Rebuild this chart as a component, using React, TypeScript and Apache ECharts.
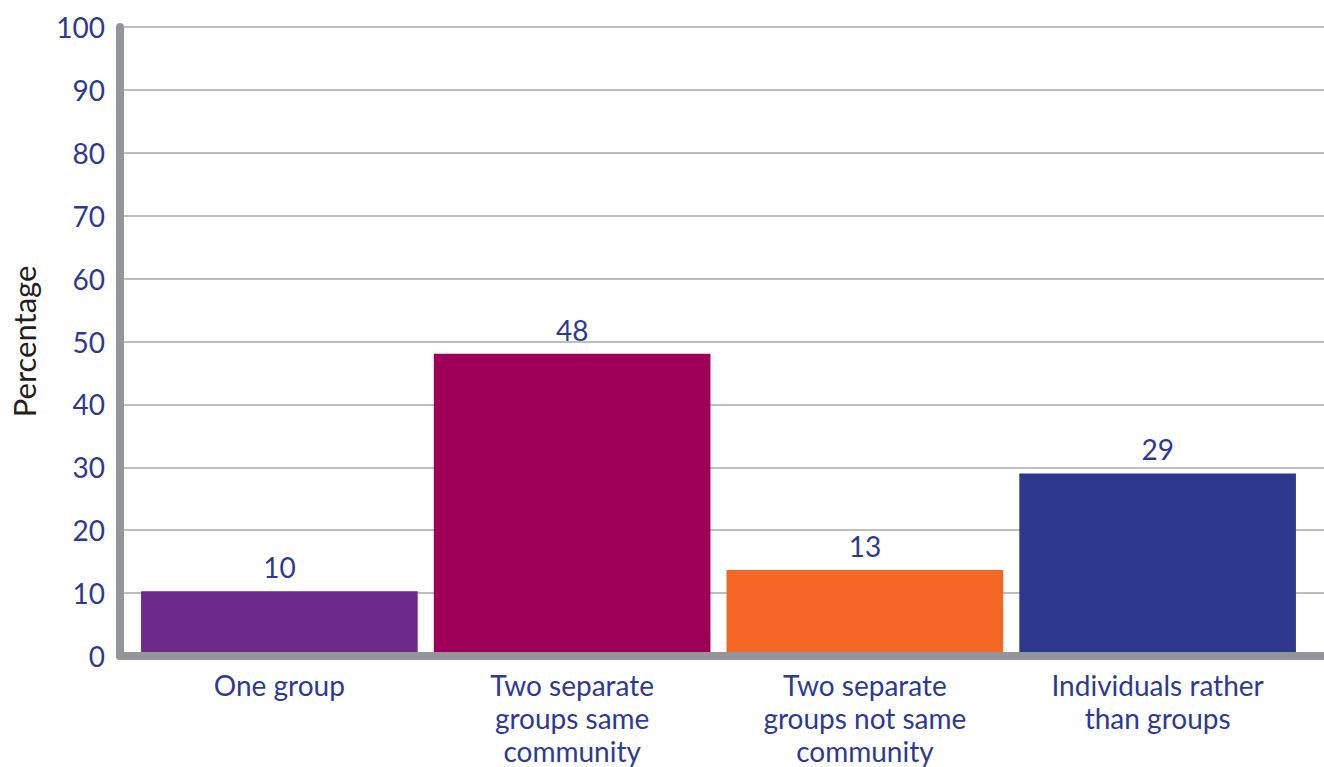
import React, { useEffect, useRef } from "react";
import * as echarts from "echarts";

const categories = [
  "One group",
  "Two separate\ngroups same\ncommunity",
  "Two separate\ngroups not same\ncommunity",
  "Individuals rather\nthan groups",
];
const values = [10, 47.9, 13.4, 28.8];
const barColors = ["#6e2a8a", "#9e0059", "#f26724", "#2d398e"];
const yTicks = { min: 0, max: 100, interval: 10 };

const TEXT_BLUE = "#2e3a92";
const AXIS_GRAY = "#939598";
const GRID_GRAY = "#a7a9ac";
const FONT = "Lato, 'Open Sans', sans-serif";

export default function App() {
  const ref = useRef<HTMLDivElement>(null);
  useEffect(() => {
    if (!ref.current) return;
    const chart = echarts.init(ref.current, undefined, { renderer: "svg" });
    chart.setOption({
      animation: false,
      backgroundColor: "#ffffff",
      textStyle: { fontFamily: FONT },
      grid: [
        { left: 119.5, right: 0, top: 27, bottom: 111 },
        { left: 133, right: 20, top: 27, bottom: 111 },
      ],
      xAxis: [
        {
          type: "value",
          gridIndex: 0,
          min: 0,
          max: 1,
          z: 12,
          axisLine: { show: true, onZero: false, lineStyle: { color: AXIS_GRAY, width: 8 } },
          axisTick: { show: false },
          axisLabel: { show: false },
          splitLine: { show: false },
        },
        {
          type: "category",
          gridIndex: 1,
          data: categories,
          axisLine: { show: false },
          axisTick: { show: false },
          axisLabel: {
            color: TEXT_BLUE,
            fontSize: 28,
            lineHeight: 33,
            margin: 14,
            fontFamily: FONT,
            interval: 0,
          },
        },
      ],
      yAxis: [
        {
          type: "value",
          gridIndex: 0,
          min: yTicks.min,
          max: yTicks.max,
          interval: yTicks.interval,
          name: "Percentage",
          nameLocation: "middle",
          nameGap: 81,
          nameRotate: 90,
          nameTextStyle: { color: "#231f20", fontSize: 31, fontFamily: FONT },
          axisLine: { show: true, onZero: false, lineStyle: { color: AXIS_GRAY, width: 8 } },
          axisTick: { show: false },
          axisLabel: { color: TEXT_BLUE, fontSize: 28, margin: 15, fontFamily: FONT },
          splitLine: { show: true, lineStyle: { color: GRID_GRAY, width: 1.5 } },
        },
        {
          type: "value",
          gridIndex: 1,
          min: yTicks.min,
          max: yTicks.max,
          interval: yTicks.interval,
          show: false,
          splitLine: { show: false },
        },
      ],
      series: [
        {
          type: "bar",
          xAxisIndex: 1,
          yAxisIndex: 1,
          barCategoryGap: "5.5%",
          data: values.map((v, i) => ({ value: v, itemStyle: { color: barColors[i] } })),
          label: {
            show: true,
            position: "top",
            distance: 10,
            color: TEXT_BLUE,
            fontSize: 28,
            fontFamily: FONT,
            formatter: (p: any) => String(Math.round(p.value)),
          },
        },
      ],
    });
    return () => chart.dispose();
  }, []);
  return <div ref={ref} style={{ width: 1324, height: 767, position: "absolute", left: 0, top: 0 }} />;
}
